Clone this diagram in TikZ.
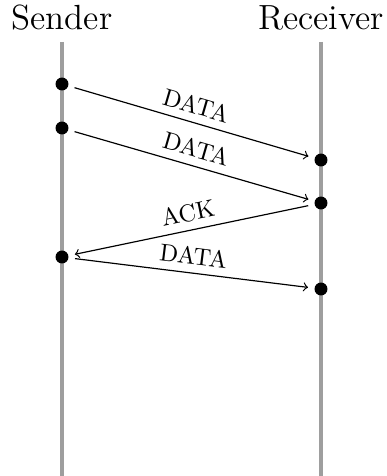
\documentclass[tikz,border=0pt]{standalone}
\begin{document}
\begin{tikzpicture}[x=0.4237pt,y=-0.4237pt,
  lifeline/.style={line width=1.9pt,color=black!38},
  dot/.style={circle,fill=black,inner sep=0pt,minimum size=5.5pt,outer sep=2.8pt},
  msg/.style={->,line width=0.5pt},
  lbl/.style={midway,above,sloped,font=\fontsize{10.3}{12}\selectfont},
  title/.style={anchor=base,font=\fontsize{14.8}{17}\selectfont}]
\useasboundingbox (0,0) rectangle (387,476);
\node[title] (snd) at (62,30) {Sender};
\node[title] (rcv) at (321,30) {Receiver};
\coordinate (stop) at (62,42);
\coordinate (sbot) at (62,476);
\coordinate (rtop) at (321,42);
\coordinate (rbot) at (321,476);
\draw[lifeline] (stop) -- (sbot);
\draw[lifeline] (rtop) -- (rbot);
\node[dot] (s1) at (62,84) {};
\node[dot] (s2) at (62,128) {};
\node[dot] (s3) at (62,257) {};
\node[dot] (r1) at (321,160) {};
\node[dot] (r2) at (321,203) {};
\node[dot] (r3) at (321,289) {};
\draw[msg] (s1) -- (r1) node[lbl] {DATA};
\draw[msg] (s2) -- (r2) node[lbl] {DATA};
\draw[msg] (r2) -- (s3) node[lbl] {ACK};
\draw[msg] (s3) -- (r3) node[lbl] {DATA};
\end{tikzpicture}
\end{document}
